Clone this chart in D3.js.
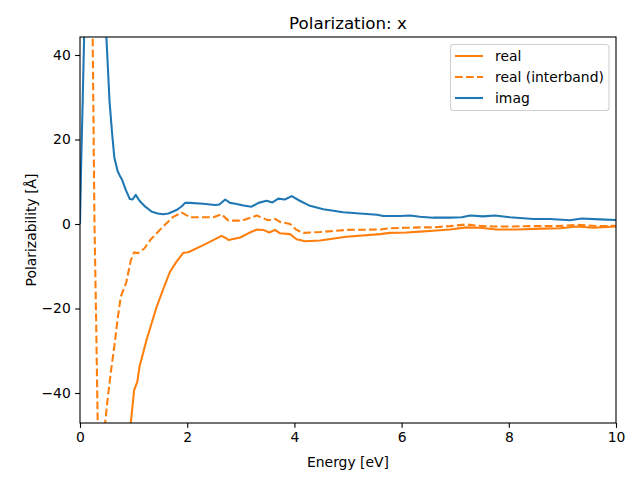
<!DOCTYPE html>
<html>
<head>
<meta charset="utf-8">
<script src="https://cdn.jsdelivr.net/npm/d3@7"></script>
<style>
  html, body { margin: 0; padding: 0; background: #fff; }
  text { font-family: "DejaVu Sans", sans-serif; fill: #000; }
</style>
</head>
<body>
<svg id="chart" width="640" height="480"></svg>
<script>
// ---- data ----
const imagE = [0, 0.02, 0.05, 0.08, 0.12, 0.2, 0.3, 0.4, 0.47, 0.52, 0.55, 0.60, 0.64, 0.70, 0.74, 0.78, 0.86, 0.93, 0.98, 1.04, 1.11, 1.20, 1.34, 1.45, 1.55, 1.65, 1.80, 1.90, 1.96, 2.05, 2.30, 2.52, 2.60, 2.71, 2.80, 2.90, 3.05, 3.20, 3.33, 3.48, 3.59, 3.70, 3.82, 3.95, 4.10, 4.29, 4.54, 4.91, 5.22, 5.54, 5.66, 5.97, 6.16, 6.34, 6.59, 6.90, 7.12, 7.28, 7.52, 7.74, 8.02, 8.46, 8.77, 9.14, 9.36, 9.70, 10];
const imagV = [0, 13.4, 29, 46, 70, 100, 110, 90, 50, 37.1, 29.2, 21.3, 15.8, 12.6, 11.5, 10.6, 7.9, 5.9, 5.8, 6.9, 5.5, 4.3, 2.9, 2.5, 2.3, 2.5, 3.3, 4.2, 5.0, 5.0, 4.8, 4.5, 4.6, 5.8, 5.0, 4.8, 4.4, 4.1, 5.0, 5.5, 5.1, 6.0, 5.8, 6.6, 5.5, 4.3, 3.5, 2.8, 2.5, 2.2, 1.9, 1.9, 2.0, 1.7, 1.5, 1.5, 1.6, 2.0, 1.8, 2.0, 1.6, 1.2, 1.2, 0.9, 1.3, 1.1, 0.95];

const realE = [0, 0.3, 0.6, 0.9, 0.95, 1.01, 1.07, 1.11, 1.24, 1.43, 1.55, 1.68, 1.80, 1.93, 2.02, 2.30, 2.55, 2.64, 2.72, 2.77, 2.99, 3.14, 3.30, 3.42, 3.53, 3.64, 3.73, 3.92, 4.04, 4.20, 4.48, 4.97, 5.60, 5.78, 6.09, 6.34, 6.59, 6.90, 7.21, 7.46, 7.77, 8.15, 8.64, 8.96, 9.27, 9.58, 10];
const realV = [-400, -200, -90, -52, -46.8, -39.3, -37.3, -33.8, -27.5, -19.6, -15.5, -11.3, -8.9, -6.8, -6.7, -5.0, -3.4, -2.8, -3.3, -3.8, -3.2, -2.2, -1.3, -1.4, -2.0, -1.4, -2.2, -2.4, -3.6, -4.1, -3.9, -3.0, -2.4, -2.1, -2.0, -1.8, -1.6, -1.3, -0.8, -0.9, -1.3, -1.3, -1.1, -1.0, -0.6, -0.9, -0.6];

const interE = [0, 0.1, 0.2, 0.23, 0.24, 0.27, 0.30, 0.33, 0.36, 0.40, 0.45, 0.47, 0.52, 0.58, 0.64, 0.70, 0.76, 0.86, 0.95, 1.01, 1.08, 1.20, 1.31, 1.55, 1.74, 1.90, 2.05, 2.49, 2.64, 2.77, 3.02, 3.30, 3.51, 3.64, 3.73, 3.92, 4.04, 4.17, 4.48, 4.97, 5.60, 5.78, 6.09, 6.34, 6.59, 6.90, 7.21, 7.40, 7.71, 7.96, 8.46, 8.89, 9.27, 9.70, 10];
const interV = [60, 65, 70, 52, 40, 0, -22, -47, -70, -75, -60, -47, -40.9, -34.6, -29, -22.7, -17.2, -14.0, -8.5, -6.7, -6.9, -5.8, -3.8, -0.6, 1.7, 2.7, 1.6, 1.6, 2.3, 0.8, 0.8, 2.0, 0.9, 1.2, 0.5, 0.0, -1.4, -2.1, -1.9, -1.4, -1.3, -1.0, -0.9, -0.8, -0.8, -0.5, -0.1, -0.4, -0.6, -0.6, -0.5, -0.5, -0.2, -0.5, -0.4];

const xTicks = [0, 2, 4, 6, 8, 10];
const yTicks = [-40, -20, 0, 20, 40];
const seriesNames = ["real", "real (interband)", "imag"];
const titleText = "Polarization: x";
const xLabel = "Energy [eV]";
const yLabel = "Polarizability [Å]";

// ---- layout ----
const L = 80, T = 37, R = 616, B = 423;
const svg = d3.select("#chart");
const x = d3.scaleLinear().domain([0, 10]).range([L, R]);
const y = d3.scaleLinear().domain([-47.1, 44.26]).range([B, T]);

svg.append("defs").append("clipPath").attr("id", "clip")
  .append("rect").attr("x", L).attr("y", T).attr("width", R - L).attr("height", B - T);

const toPts = (E, V) => E.map((e, i) => [e, V[i]]);
const line = d3.line().x(d => x(d[0])).y(d => y(d[1]));

const series = [
  { name: seriesNames[0], pts: toPts(realE, realV), color: "#ff7f0e", dash: null },
  { name: seriesNames[1], pts: toPts(interE, interV), color: "#ff7f0e", dash: "7.7,3.3" },
  { name: seriesNames[2], pts: toPts(imagE, imagV), color: "#1f77b4", dash: null }
];

const g = svg.append("g").attr("clip-path", "url(#clip)");
series.forEach(s => {
  g.append("path").attr("d", line(s.pts))
    .attr("fill", "none").attr("stroke", s.color).attr("stroke-width", 2.08)
    .attr("stroke-linejoin", "round").attr("stroke-linecap", "butt")
    .attr("stroke-dasharray", s.dash);
});

// ---- axes ----
const fmt = d => d < 0 ? "\u2212" + Math.abs(d) : String(d);
const xAxis = d3.axisBottom(x).tickValues(xTicks).tickFormat(fmt).tickSizeInner(4.86).tickSizeOuter(0).tickPadding(4.4);
const yAxis = d3.axisLeft(y).tickValues(yTicks).tickFormat(fmt).tickSizeInner(4.86).tickSizeOuter(0).tickPadding(4.4);

const gx = svg.append("g").attr("transform", `translate(0,${B})`).call(xAxis);
const gy = svg.append("g").attr("transform", `translate(${L},0)`).call(yAxis);
[gx, gy].forEach(a => {
  a.select(".domain").remove();
  a.selectAll(".tick line").attr("stroke", "#000").attr("stroke-width", 1.1);
  a.selectAll(".tick text").attr("font-family", "DejaVu Sans").attr("font-size", "13.9px").attr("fill", "#000");
});

// spines
svg.append("rect").attr("x", L).attr("y", T).attr("width", R - L).attr("height", B - T)
  .attr("fill", "none").attr("stroke", "#000").attr("stroke-width", 1.1);

// ---- labels ----
svg.append("text").attr("x", (L + R) / 2).attr("y", 29).attr("text-anchor", "middle")
  .attr("font-size", "16.7px").text(titleText);
svg.append("text").attr("x", (L + R) / 2).attr("y", 467).attr("text-anchor", "middle")
  .attr("font-size", "13.9px").text(xLabel);
svg.append("text").attr("transform", `translate(36,${(T + B) / 2}) rotate(-90)`).attr("text-anchor", "middle")
  .attr("font-size", "13.9px").text(yLabel);

// ---- legend ----
const lg = svg.append("g");
lg.append("rect").attr("x", 450.5).attr("y", 44.5).attr("width", 158.5).attr("height", 66)
  .attr("rx", 3).attr("ry", 3).attr("fill", "#fff").attr("fill-opacity", 0.8)
  .attr("stroke", "#d0d0d0").attr("stroke-width", 1.1);
const rowY = [56, 77, 98];
series.forEach((s, i) => {
  lg.append("line").attr("x1", 455).attr("x2", 483).attr("y1", rowY[i]).attr("y2", rowY[i])
    .attr("stroke", s.color).attr("stroke-width", 2.08).attr("stroke-dasharray", s.dash);
  lg.append("text").attr("x", 495).attr("y", rowY[i] + 5).attr("font-size", "13.9px").text(s.name);
});
</script>
</body>
</html>
